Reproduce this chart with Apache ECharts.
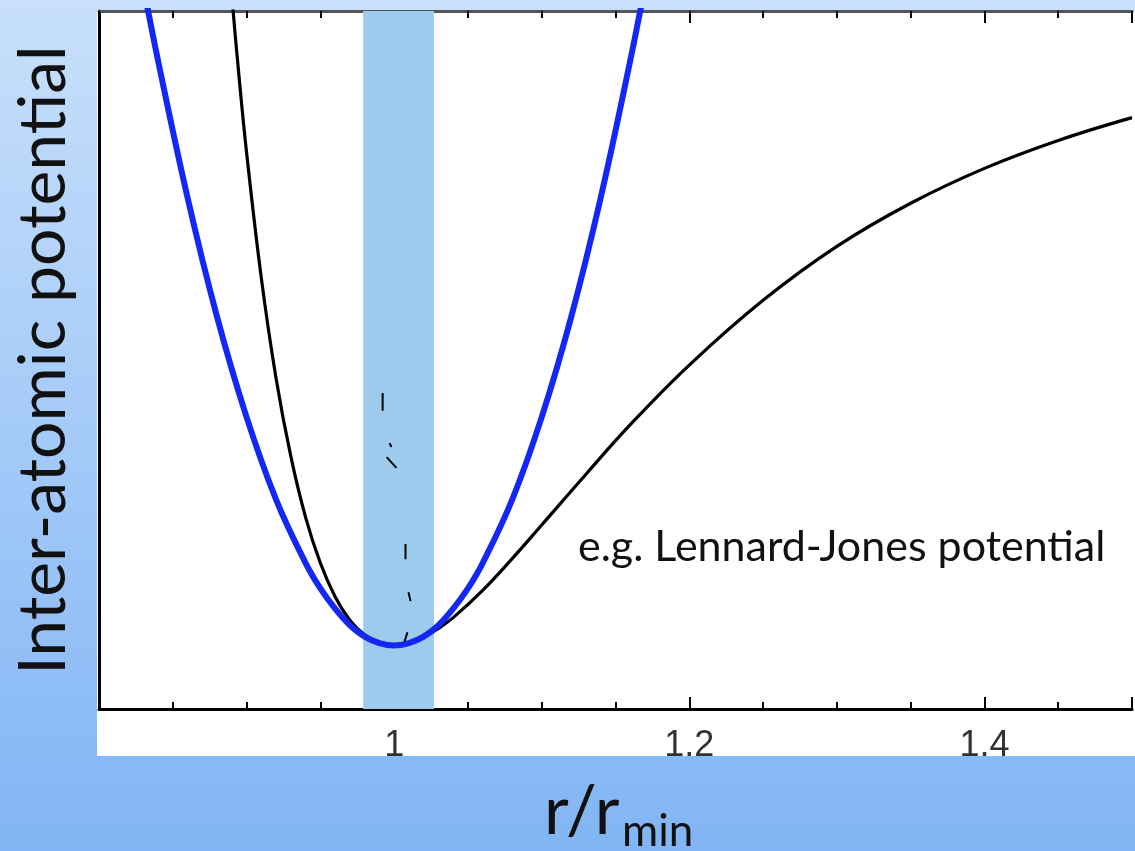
<!DOCTYPE html>
<html>
<head>
<meta charset="utf-8">
<script src="https://cdn.jsdelivr.net/npm/echarts@6/dist/echarts.min.js"></script>
<style>
html,body{margin:0;padding:0;}
#chart{width:1135px;height:851px;}
</style>
</head>
<body>
<div id="chart"></div>
<script>
// r / r_min sample positions and potential values
const harmonicR = [0.83, 0.84, 0.86, 0.88, 0.90, 0.92, 0.94, 0.95, 0.96, 0.97, 0.98, 0.99, 1.00, 1.01, 1.02, 1.03, 1.04, 1.05, 1.06, 1.08, 1.10, 1.12, 1.14, 1.16, 1.17];
const harmonicV = [0.04, -0.078, -0.294, -0.482, -0.640, -0.770, -0.870, -0.910, -0.942, -0.968, -0.986, -0.996, -1.000, -0.996, -0.986, -0.968, -0.942, -0.910, -0.870, -0.770, -0.640, -0.482, -0.294, -0.078, 0.04];

const ljR = [0.885, 0.89, 0.895, 0.90, 0.91, 0.92, 0.93, 0.94, 0.95, 0.96, 0.97, 0.98, 0.99, 1.00, 1.01, 1.02, 1.03, 1.04, 1.06, 1.08, 1.10, 1.13, 1.16, 1.20, 1.25, 1.30, 1.35, 1.40, 1.45, 1.50];
const ljV = [0.17, 0.024, -0.106, -0.223, -0.421, -0.579, -0.702, -0.798, -0.870, -0.923, -0.960, -0.983, -0.996, -1.000, -0.997, -0.987, -0.973, -0.956, -0.913, -0.863, -0.810, -0.730, -0.652, -0.558, -0.456, -0.371, -0.303, -0.248, -0.204, -0.168];

// short dashes drawn inside the shaded band (pairs of [r, V] end points)
const dashSegments = [
  [[0.9922, -0.602], [0.9922, -0.630]],
  [[0.9969, -0.681], [0.9982, -0.687]],
  [[0.9949, -0.703], [1.0016, -0.720]],
  [[1.0077, -0.840], [1.0077, -0.864]],
  [[1.0097, -0.916], [1.0111, -0.930]],
  [[1.0090, -0.979], [1.0070, -0.994]]
];

const bandRange = [0.979, 1.027];
const xTicks = {min: 0.8, max: 1.5, interval: 0.2};
const yRange = {min: -1.1, max: 0};

const annotation = 'e.g. Lennard-Jones potential';
const yTitle = 'Inter-atomic potential';
const xTitleMain = 'r/r';
const xTitleSub = 'min';

const zip = (a, b) => a.map((v, i) => [v, b[i]]);

const chart = echarts.init(document.getElementById('chart'), null, {renderer: 'canvas'});

const bgGrad = (global) => ({
  type: 'linear', x: 0, y: 0, x2: 0, y2: global ? 851 : 1, global: !!global,
  colorStops: [{offset: 0, color: '#c8e0fa'}, {offset: 1, color: '#82b5f5'}]
});

const series = [
  {
    type: 'line', xAxisIndex: 0, yAxisIndex: 0, data: [], z: -1,
    markArea: {
      silent: true,
      itemStyle: {color: '#9ccbee'},
      data: [[{xAxis: bandRange[0]}, {xAxis: bandRange[1]}]]
    }
  },
  {
    type: 'line', name: 'Lennard-Jones', data: zip(ljR, ljV), smooth: 0.4,
    showSymbol: false, lineStyle: {color: '#000', width: 3.2}, clip: true, z: 3
  },
  {
    type: 'line', name: 'harmonic', data: zip(harmonicR, harmonicV), smooth: 0.4,
    showSymbol: false, lineStyle: {color: '#1428f5', width: 6}, clip: true, z: 4
  }
];
dashSegments.forEach(seg => series.push({
  type: 'line', data: seg, showSymbol: false, lineStyle: {color: '#000', width: 2}, z: 5
}));

const option = {
  backgroundColor: bgGrad(false),
  animation: false,
  grid: {left: 99, top: 11, right: -2, bottom: 142, containLabel: false},
  xAxis: [
    {
      type: 'value', position: 'bottom', min: xTicks.min, max: xTicks.max, interval: xTicks.interval,
      axisLine: {show: true, onZero: false, lineStyle: {color: '#000', width: 3}},
      axisTick: {show: true, inside: true, length: 12, lineStyle: {color: '#000', width: 2}},
      minorTick: {show: true, splitNumber: 4, length: 7, lineStyle: {color: '#000', width: 2}},
      splitLine: {show: false},
      axisLabel: {
        show: true, margin: 19, fontSize: 36, color: '#333', fontFamily: 'Liberation Sans',
        formatter: v => (Math.abs(v - 0.8) < 1e-6 || Math.abs(v - 1.5) < 1e-6) ? '' : String(+(+v).toFixed(1))
      }
    },
    {
      type: 'value', position: 'top', min: xTicks.min, max: xTicks.max, interval: xTicks.interval,
      axisLine: {show: true, onZero: false, lineStyle: {color: '#555', width: 3}},
      axisTick: {show: true, inside: true, length: 12, lineStyle: {color: '#000', width: 2}},
      minorTick: {show: true, splitNumber: 4, length: 7, lineStyle: {color: '#000', width: 2}},
      splitLine: {show: false},
      axisLabel: {show: false}
    }
  ],
  yAxis: {
    type: 'value', min: yRange.min, max: yRange.max,
    axisLine: {show: true, onZero: false, lineStyle: {color: '#000', width: 3}},
    axisTick: {show: false}, axisLabel: {show: false}, splitLine: {show: false},
    name: yTitle, nameLocation: 'middle', nameRotate: 90, nameGap: 22,
    nameTextStyle: {fontSize: 66, color: '#111', fontFamily: 'Lato'}
  },
  graphic: [
    {type: 'rect', z: -10, silent: true, shape: {x: 97, y: 11, width: 1040, height: 745}, style: {fill: '#fff'}},
    {type: 'rect', z: 100, silent: true, shape: {x: 0, y: 756, width: 1135, height: 95}, style: {fill: bgGrad(true)}},
    {type: 'text', z: 101, left: 578, top: 526, silent: true,
      style: {text: annotation, fontSize: 43, fill: '#111', fontFamily: 'Lato'}},
    {type: 'text', z: 101, left: 544, top: 778, silent: true,
      style: {text: xTitleMain, fontSize: 68, fill: '#111', fontFamily: 'Lato'}},
    {type: 'text', z: 101, left: 622, top: 810, silent: true,
      style: {text: xTitleSub, fontSize: 44, fill: '#111', fontFamily: 'Lato'}}
  ],
  series: series
};
chart.setOption(option);
</script>
</body>
</html>
